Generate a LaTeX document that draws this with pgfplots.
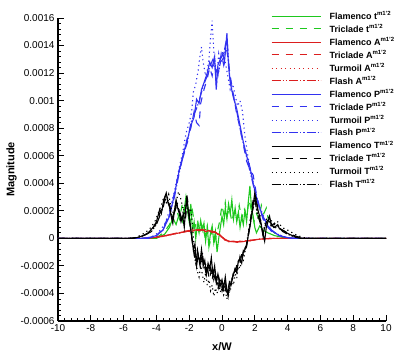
\documentclass[border=0pt]{standalone}
\usepackage{fontspec}
\setmainfont{Liberation Sans}
\usepackage{pgfplots}
\pgfplotsset{compat=1.18}

\definecolor{tgreen}{RGB}{30,200,30}
\definecolor{tred}{RGB}{220,30,30}
\definecolor{tblue}{RGB}{50,50,240}
\tikzset{
  ldash/.style={dash pattern=on 7pt off 7pt},
  ldot/.style={dash pattern=on 1.2pt off 3.3pt},
  ldd/.style={dash pattern=on 9pt off 2pt on 1.2pt off 2pt on 1.2pt off 2pt},
  legtxt/.style={anchor=base west, inner sep=0pt, text=black, font=\bfseries\fontsize{9}{11}\selectfont},
}
% one legend row: line y, text baseline y, line style, name
\newcommand\legrow[4]{%
  \draw[line width=1pt, #3] (213.7pt,#1) -- (262.7pt,#1);
  \node[legtxt] at (271.3pt,#2) {#4\textsuperscript{m1'2}};}

\begin{document}
\begin{tikzpicture}
\path[use as bounding box] (-58pt,-41pt) rectangle (349pt,321pt);
\begin{axis}[
  scale only axis, width=328pt, height=303pt,
  xmin=-10, xmax=10, ymin=-0.0006, ymax=0.0016,
  xtick={-10,-8,-6,-4,-2,0,2,4,6,8,10},
  ytick={-0.0006,-0.0004,-0.0002,0,0.0002,0.0004,0.0006,0.0008,0.001,0.0012,0.0014,0.0016},
  minor x tick num=4, minor y tick num=4,
  axis lines*=left,
  axis line style={line width=1.2pt},
  tick align=inside,
  major tick length=6pt, minor tick length=3pt,
  every tick/.style={black, line width=0.9pt},
  scaled y ticks=false,
  yticklabel style={/pgf/number format/fixed, /pgf/number format/precision=4},
  /pgf/number format/assume math mode=true,
  tick label style={font=\fontsize{10}{12}\selectfont},
  xlabel={x/W}, ylabel={Magnitude},
  label style={font=\bfseries\fontsize{11}{13}\selectfont},
  xlabel style={yshift=-4pt},
  ylabel style={yshift=-3pt},
  every axis plot/.append style={line width=1.1pt},
]
% t, Flamenco
\addplot[color=tgreen, solid] coordinates {
(-10,0) (-4,0) (-3.5,0.00003) (-3.2,0.00008) (-3.0,0.00015) (-2.8,0.0001) (-2.6,0.00018)
(-2.4,0.00012) (-2.2,0.0003) (-2.1,0.0002) (-2.0,0.00012) (-1.9,0.00025) (-1.8,0.00005)
(-1.7,0.00012) (-1.6,0.0) (-1.5,0.0001) (-1.4,0.00004) (-1.3,0.00013) (-1.2,0.00006)
(-1.1,0.00011) (-1.0,-0.00002) (-0.9,0.00008) (-0.8,-0.00006) (-0.7,0.00004) (-0.6,0.00009)
(-0.5,-0.00003) (-0.4,0.00005) (-0.3,-0.0001) (-0.2,0.0) (-0.1,0.00008) (0,0.00016)
(0.1,0.0001) (0.2,0.00022) (0.3,0.00014) (0.4,0.00025) (0.5,0.00018) (0.6,0.00028)
(0.7,0.00014) (0.8,0.00022) (0.9,0.00012) (1.0,0.00019) (1.1,0.00008) (1.2,0.00016)
(1.3,0.0001) (1.4,0.0002) (1.5,0.00012) (1.6,0.00026) (1.7,0.00038) (1.8,0.00022)
(1.9,0.00016) (2.0,0.00008) (2.1,0.00004) (2.3,0.00009) (2.5,0.00006) (2.8,0.00004)
(3.2,0.00002) (3.6,0.00001) (4,0) (10,0)
};
% t, Triclade
\addplot[color=tgreen, ldash] coordinates {
(-10,0) (-4.2,0) (-3.8,0.00002) (-3.5,0.00005) (-3.2,0.0001) (-3.0,0.00016) (-2.8,0.00022)
(-2.6,0.00014) (-2.4,0.00026) (-2.25,0.00018) (-2.1,0.00024) (-1.95,0.00012) (-1.8,0.0002)
(-1.65,0.00008) (-1.5,0.00014) (-1.35,0.00004) (-1.2,0.0001) (-1.05,0.00002) (-0.9,0.00009)
(-0.75,-0.00004) (-0.6,0.00006) (-0.45,-0.00002) (-0.3,0.00004) (-0.15,0.00012) (0,0.00024)
(0.1,0.00018) (0.2,0.00026) (0.3,0.00016) (0.45,0.00022) (0.6,0.00012) (0.75,0.0002)
(0.9,0.00014) (1.05,0.00024) (1.2,0.00014) (1.35,0.00022) (1.5,0.00016) (1.65,0.00028)
(1.8,0.0002) (1.95,0.00012) (2.1,0.00018) (2.25,0.00014) (2.4,0.00024) (2.55,0.00018)
(2.7,0.00022) (2.85,0.00012) (3.0,0.00006) (3.3,0.00003) (3.7,0.00001) (4.1,0) (10,0)
};
% A, Flamenco
\addplot[color=tred, solid] coordinates {
(-10,0) (-4.8,0) (-4.4,0.000003) (-4.0,0.000008) (-3.6,0.000015) (-3.2,0.000025) (-2.8,0.000035)
(-2.5,0.000042) (-2.2,0.00005) (-2.0,0.000058) (-1.8,0.000052) (-1.6,0.000062) (-1.4,0.000056)
(-1.2,0.000066) (-1.0,0.000048) (-0.8,0.000058) (-0.6,0.000042) (-0.45,0.00005) (-0.3,0.000036)
(-0.15,0.000028) (0,0.00001) (0.15,-0.000008) (0.3,-0.000018) (0.5,-0.000024) (0.7,-0.00002)
(0.9,-0.000028) (1.1,-0.00002) (1.3,-0.000024) (1.5,-0.000016) (1.7,-0.000018) (2.0,-0.00001)
(2.3,-0.000006) (2.7,-0.000002) (3.2,0) (10,0)
};
% A, Triclade
\addplot[color=tred, ldash] coordinates {
(-10,0) (-4.8,0) (-4.4,0.000004) (-4.0,0.00001) (-3.6,0.000018) (-3.2,0.000026) (-2.8,0.000038)
(-2.5,0.000046) (-2.2,0.000054) (-2.0,0.00005) (-1.8,0.00006) (-1.6,0.000056) (-1.4,0.000064)
(-1.2,0.000058) (-1.0,0.000062) (-0.8,0.00005) (-0.6,0.000054) (-0.45,0.000044) (-0.3,0.00004)
(-0.15,0.000022) (0,0.000012) (0.15,-0.000004) (0.3,-0.000014) (0.5,-0.000026) (0.7,-0.000022)
(0.9,-0.000024) (1.1,-0.000026) (1.3,-0.00002) (1.5,-0.00002) (1.7,-0.000014) (2.0,-0.000012)
(2.3,-0.000006) (2.7,-0.000002) (3.2,0) (10,0)
};
% A, Turmoil
\addplot[color=tred, ldot] coordinates {
(-10,0) (-4.8,0) (-4.4,0.000003) (-4.0,0.000007) (-3.6,0.000014) (-3.2,0.000024) (-2.8,0.000034)
(-2.5,0.00004) (-2.2,0.000052) (-2.0,0.000056) (-1.8,0.000064) (-1.6,0.000058) (-1.4,0.00007)
(-1.2,0.00006) (-1.0,0.000064) (-0.8,0.000054) (-0.6,0.00005) (-0.45,0.000046) (-0.3,0.000032)
(-0.15,0.00002) (0,0.000006) (0.15,-0.00001) (0.3,-0.00002) (0.5,-0.000028) (0.7,-0.000024)
(0.9,-0.00003) (1.1,-0.000022) (1.3,-0.000026) (1.5,-0.000018) (1.7,-0.000016) (2.0,-0.00001)
(2.3,-0.000005) (2.7,-0.000002) (3.2,0) (10,0)
};
% A, Flash
\addplot[color=tred, ldd] coordinates {
(-10,0) (-4.8,0) (-4.4,0.000003) (-4.0,0.000009) (-3.6,0.000016) (-3.2,0.000027) (-2.8,0.000036)
(-2.5,0.000044) (-2.2,0.000048) (-2.0,0.000056) (-1.8,0.000056) (-1.6,0.00006) (-1.4,0.00006)
(-1.2,0.000062) (-1.0,0.000054) (-0.8,0.000056) (-0.6,0.000046) (-0.45,0.000046) (-0.3,0.000034)
(-0.15,0.000024) (0,0.000008) (0.15,-0.000006) (0.3,-0.000016) (0.5,-0.000022) (0.7,-0.000024)
(0.9,-0.000026) (1.1,-0.000022) (1.3,-0.000022) (1.5,-0.000018) (1.7,-0.000016) (2.0,-0.000011)
(2.3,-0.000006) (2.7,-0.000002) (3.2,0) (10,0)
};
% P, Flamenco
\addplot[color=tblue, solid] coordinates {
(-10,0) (-5,0) (-4.5,0.000005) (-4,0.00002) (-3.6,0.00006) (-3.2,0.00016) (-2.9,0.00032)
(-2.6,0.0005) (-2.3,0.00064) (-2.1,0.00072) (-1.9,0.00082) (-1.7,0.00088) (-1.55,0.00101)
(-1.4,0.00098) (-1.25,0.00108) (-1.1,0.00113) (-0.9,0.0012) (-0.75,0.00128) (-0.6,0.00124)
(-0.45,0.00132) (-0.35,0.00108) (-0.25,0.00126) (-0.1,0.0013) (0.05,0.00134) (0.15,0.00128)
(0.3,0.00149) (0.4,0.00125) (0.5,0.00113) (0.7,0.00102) (0.9,0.00094) (1.1,0.00082)
(1.3,0.0007) (1.5,0.0006) (1.7,0.00052) (1.9,0.0004) (2.1,0.0003) (2.3,0.00022) (2.5,0.00016)
(2.8,0.00009) (3.1,0.00005) (3.5,0.00002) (4,0.000005) (4.5,0) (10,0)
};
% P, Triclade
\addplot[color=tblue, ldash] coordinates {
(-10,0) (-5,0) (-4.5,0) (-4,0.00002) (-3.6,0.00007) (-3.2,0.00018) (-2.9,0.00033) (-2.6,0.0005)
(-2.3,0.00062) (-2.1,0.00074) (-1.9,0.0008) (-1.7,0.00092) (-1.55,0.00084) (-1.4,0.00082)
(-1.3,0.00098) (-1.1,0.00108) (-0.9,0.00116) (-0.75,0.00124) (-0.6,0.00118) (-0.45,0.0013)
(-0.35,0.00112) (-0.2,0.00122) (-0.05,0.00134) (0.1,0.00126) (0.25,0.0014) (0.35,0.00132)
(0.5,0.00118) (0.7,0.00104) (0.9,0.0009) (1.1,0.0008) (1.3,0.00068) (1.5,0.00056) (1.7,0.0005)
(1.9,0.00046) (2.1,0.00032) (2.3,0.00022) (2.5,0.00014) (2.8,0.00008) (3.1,0.00004)
(3.5,0.00002) (4,0.000005) (4.5,0) (10,0)
};
% P, Turmoil
\addplot[color=tblue, ldot] coordinates {
(-10,0) (-4.8,0) (-4.3,0.00001) (-3.9,0.00004) (-3.5,0.0001) (-3.2,0.0002) (-2.9,0.00034)
(-2.6,0.00052) (-2.4,0.00062) (-2.2,0.00076) (-2.0,0.00084) (-1.85,0.00092) (-1.75,0.00106)
(-1.6,0.00112) (-1.45,0.00122) (-1.35,0.00132) (-1.25,0.00139) (-1.15,0.00128) (-1.0,0.00118)
(-0.9,0.00122) (-0.8,0.0013) (-0.7,0.00145) (-0.6,0.00158) (-0.5,0.00136) (-0.4,0.00126)
(-0.3,0.0012) (-0.2,0.00134) (-0.1,0.00128) (0.05,0.00136) (0.2,0.00128) (0.35,0.00118)
(0.5,0.00108) (0.65,0.00112) (0.8,0.00104) (0.95,0.00096) (1.1,0.001) (1.25,0.00092)
(1.4,0.00074) (1.6,0.00058) (1.8,0.00046) (2.0,0.00036) (2.2,0.00026) (2.4,0.0002)
(2.6,0.00014) (2.9,0.00008) (3.2,0.00004) (3.6,0.00002) (4,0.000005) (4.5,0) (10,0)
};
% P, Flash
\addplot[color=tblue, ldd] coordinates {
(-10,0) (-5,0) (-4.5,0) (-4,0.00002) (-3.6,0.00006) (-3.2,0.00017) (-2.9,0.0003) (-2.6,0.00048)
(-2.3,0.00063) (-2.1,0.0007) (-1.9,0.00084) (-1.7,0.0009) (-1.5,0.00096) (-1.3,0.00104)
(-1.1,0.00112) (-0.9,0.00118) (-0.7,0.00126) (-0.55,0.0013) (-0.4,0.00124) (-0.25,0.00118)
(-0.1,0.00128) (0.05,0.0013) (0.2,0.0014) (0.3,0.00146) (0.45,0.0012) (0.6,0.00108)
(0.8,0.00098) (1.0,0.00086) (1.2,0.00074) (1.4,0.00064) (1.6,0.00054) (1.8,0.00044)
(2.0,0.00034) (2.2,0.00025) (2.4,0.00018) (2.7,0.0001) (3.0,0.00006) (3.4,0.00003)
(3.8,0.00001) (4.3,0) (10,0)
};
% T, Flamenco
\addplot[color=black, solid] coordinates {
(-10,0) (-5.6,0) (-5.2,0.000005) (-4.8,0.00002) (-4.5,0.00004) (-4.2,0.00008) (-4.0,0.00012)
(-3.8,0.00021) (-3.7,0.00018) (-3.55,0.00028) (-3.4,0.00033) (-3.3,0.00026) (-3.2,0.00023)
(-3.1,0.00016) (-3.0,0.00011) (-2.9,0.0002) (-2.8,0.00028) (-2.7,0.00022) (-2.6,0.00018)
(-2.5,0.00012) (-2.4,0.00016) (-2.3,0.00008) (-2.2,0.00024) (-2.15,0.00031) (-2.05,0.0002)
(-1.95,0.0001) (-1.85,0.00002) (-1.75,-0.00008) (-1.65,-0.00004) (-1.55,-0.0002) (-1.45,-0.00012)
(-1.35,-0.00018) (-1.25,-0.00008) (-1.15,-0.0002) (-1.05,-0.00016) (-0.95,-0.00026) (-0.85,-0.00018)
(-0.75,-0.00022) (-0.65,-0.00014) (-0.55,-0.00027) (-0.45,-0.0002) (-0.35,-0.00032) (-0.25,-0.00026)
(-0.12,-0.00035) (0,-0.0003) (0.1,-0.00036) (0.2,-0.00028) (0.3,-0.00038) (0.37,-0.00042)
(0.45,-0.00032) (0.55,-0.00034) (0.67,-0.00027) (0.8,-0.00022) (0.9,-0.00025) (1.0,-0.00016)
(1.1,-0.00015) (1.2,-0.00018) (1.3,-0.0001) (1.4,-0.00008) (1.5,-0.00006) (1.6,0.00002)
(1.7,0.00008) (1.8,0.00016) (1.9,0.00024) (2.0,0.00033) (2.1,0.00026) (2.2,0.0002)
(2.3,0.00016) (2.45,0.00006) (2.6,-0.00002) (2.7,0.00008) (2.8,0.00012) (2.9,0.00016)
(3.0,0.0001) (3.2,0.00008) (3.4,0.0001) (3.5,0.00007) (3.8,0.00005) (4.1,0.00003)
(4.5,0.00001) (4.9,0) (10,0)
};
% T, Triclade
\addplot[color=black, ldash] coordinates {
(-10,0) (-5.5,0) (-5.0,0.00001) (-4.6,0.00003) (-4.3,0.00006) (-4.0,0.00011) (-3.8,0.00018)
(-3.6,0.00024) (-3.45,0.00031) (-3.3,0.00028) (-3.15,0.0002) (-3.0,0.00014) (-2.85,0.00022)
(-2.7,0.00026) (-2.55,0.00016) (-2.4,0.0002) (-2.25,0.00012) (-2.1,0.00028) (-2.0,0.00018)
(-1.9,0.00006) (-1.8,-0.00004) (-1.7,-0.0001) (-1.6,-0.00014) (-1.5,-0.00008) (-1.4,-0.00016)
(-1.3,-0.00022) (-1.2,-0.00014) (-1.1,-0.00018) (-1.0,-0.00024) (-0.9,-0.0002) (-0.8,-0.00028)
(-0.7,-0.00022) (-0.6,-0.0003) (-0.5,-0.00024) (-0.4,-0.00029) (-0.3,-0.00034) (-0.2,-0.00028)
(-0.1,-0.00033) (0,-0.00038) (0.1,-0.00032) (0.2,-0.00036) (0.3,-0.0004) (0.4,-0.00035)
(0.5,-0.0003) (0.6,-0.00032) (0.7,-0.00024) (0.8,-0.00026) (0.9,-0.00019) (1.0,-0.0002)
(1.1,-0.00013) (1.2,-0.00016) (1.3,-0.00009) (1.4,-0.00011) (1.5,-0.00004) (1.6,0.00001)
(1.7,0.0001) (1.8,0.0002) (1.9,0.00028) (2.0,0.00024) (2.1,0.0003) (2.2,0.00018)
(2.35,0.00012) (2.5,0.00002) (2.65,0.0001) (2.8,0.00014) (3.0,0.00009) (3.2,0.00011)
(3.4,0.00008) (3.7,0.00006) (4.0,0.00004) (4.4,0.00002) (4.8,0.000005) (5.2,0) (10,0)
};
% T, Turmoil
\addplot[color=black, ldot] coordinates {
(-10,0) (-5.8,0) (-5.3,0.000005) (-5.0,0.00002) (-4.7,0.00004) (-4.4,0.00007) (-4.1,0.00012)
(-3.9,0.00018) (-3.7,0.00024) (-3.55,0.0003) (-3.4,0.00026) (-3.25,0.00032) (-3.1,0.00022)
(-2.95,0.00018) (-2.8,0.00026) (-2.65,0.00034) (-2.5,0.00028) (-2.35,0.0002) (-2.2,0.00026)
(-2.05,0.00018) (-1.9,0.00022) (-1.8,0.0001) (-1.7,-0.00006) (-1.6,-0.00015) (-1.5,-0.00024)
(-1.4,-0.00028) (-1.3,-0.0002) (-1.2,-0.00026) (-1.1,-0.00032) (-1.0,-0.00025) (-0.9,-0.00034)
(-0.8,-0.0003) (-0.7,-0.00038) (-0.6,-0.00034) (-0.5,-0.00042) (-0.4,-0.00036) (-0.3,-0.0004)
(-0.2,-0.00033) (-0.1,-0.00039) (0,-0.00035) (0.1,-0.00041) (0.2,-0.00038) (0.3,-0.00044)
(0.4,-0.00036) (0.5,-0.00039) (0.6,-0.0003) (0.7,-0.00034) (0.8,-0.00026) (0.9,-0.00029)
(1.0,-0.0002) (1.1,-0.00022) (1.2,-0.00015) (1.3,-0.00016) (1.4,-0.0001) (1.5,-0.00004)
(1.6,0.00004) (1.7,0.00012) (1.8,0.00018) (1.9,0.00026) (2.0,0.0003) (2.1,0.00022)
(2.2,0.00014) (2.3,0.00018) (2.4,0.0001) (2.5,0.00004) (2.65,0.00012) (2.8,0.00016)
(3.0,0.00013) (3.2,0.0001) (3.4,0.00012) (3.6,0.00009) (3.8,0.00007) (4.0,0.00006)
(4.3,0.00004) (4.6,0.00002) (5.0,0.000005) (5.4,0) (10,0)
};
% T, Flash
\addplot[color=black, ldd] coordinates {
(-10,0) (-5.5,0) (-5.0,0.00001) (-4.6,0.00003) (-4.3,0.00005) (-4.0,0.0001) (-3.8,0.00016)
(-3.6,0.00022) (-3.5,0.00027) (-3.35,0.0003) (-3.2,0.00024) (-3.05,0.00015) (-2.9,0.00019)
(-2.75,0.00024) (-2.6,0.0002) (-2.45,0.00014) (-2.3,0.00018) (-2.15,0.00025) (-2.0,0.00016)
(-1.9,0.00005) (-1.8,-0.00002) (-1.7,-0.00012) (-1.6,-0.00018) (-1.5,-0.0001) (-1.4,-0.00014)
(-1.3,-0.00018) (-1.2,-0.0001) (-1.1,-0.00021) (-1.0,-0.00019) (-0.9,-0.00024) (-0.8,-0.0002)
(-0.7,-0.00026) (-0.6,-0.00022) (-0.5,-0.0003) (-0.4,-0.00025) (-0.3,-0.00031) (-0.2,-0.00036)
(-0.1,-0.0003) (0,-0.00034) (0.1,-0.00039) (0.2,-0.00033) (0.3,-0.00037) (0.4,-0.00041)
(0.5,-0.00034) (0.6,-0.0003) (0.7,-0.00028) (0.8,-0.00022) (0.9,-0.00023) (1.0,-0.00017)
(1.1,-0.00018) (1.2,-0.00012) (1.3,-0.00013) (1.4,-0.00007) (1.5,-0.00005) (1.6,0.00003)
(1.7,0.00009) (1.8,0.00017) (1.9,0.00022) (2.0,0.00029) (2.1,0.00021) (2.2,0.00017)
(2.35,0.0001) (2.5,0.00003) (2.6,0.00008) (2.8,0.00013) (3.0,0.00011) (3.2,0.00007)
(3.4,0.00009) (3.7,0.00005) (4.0,0.00003) (4.4,0.00001) (4.8,0) (10,0)
};
\end{axis}
% legend, drawn by hand (axis south west is at the origin)
\legrow{304.5pt}{301.3pt}{color=tgreen}{Flamenco t}
\legrow{292.5pt}{288.38pt}{color=tgreen, ldash}{Triclade t}
\legrow{278.5pt}{275.46pt}{color=tred}{Flamenco A}
\legrow{266.5pt}{262.54pt}{color=tred, ldash}{Triclade A}
\legrow{252.5pt}{249.62pt}{color=tred, ldot}{Turmoil A}
\legrow{240.5pt}{236.7pt}{color=tred, ldd}{Flash A}
\legrow{226.5pt}{223.78pt}{color=tblue}{Flamenco P}
\legrow{214.5pt}{210.86pt}{color=tblue, ldash}{Triclade P}
\legrow{200.5pt}{197.94pt}{color=tblue, ldot}{Turmoil P}
\legrow{188.5pt}{185.02pt}{color=tblue, ldd}{Flash P}
\legrow{174.5pt}{172.1pt}{color=black}{Flamenco T}
\legrow{162.5pt}{159.18pt}{color=black, ldash}{Triclade T}
\legrow{148.5pt}{146.26pt}{color=black, ldot}{Turmoil T}
\legrow{136.5pt}{133.34pt}{color=black, ldd}{Flash T}
\end{tikzpicture}
\end{document}
